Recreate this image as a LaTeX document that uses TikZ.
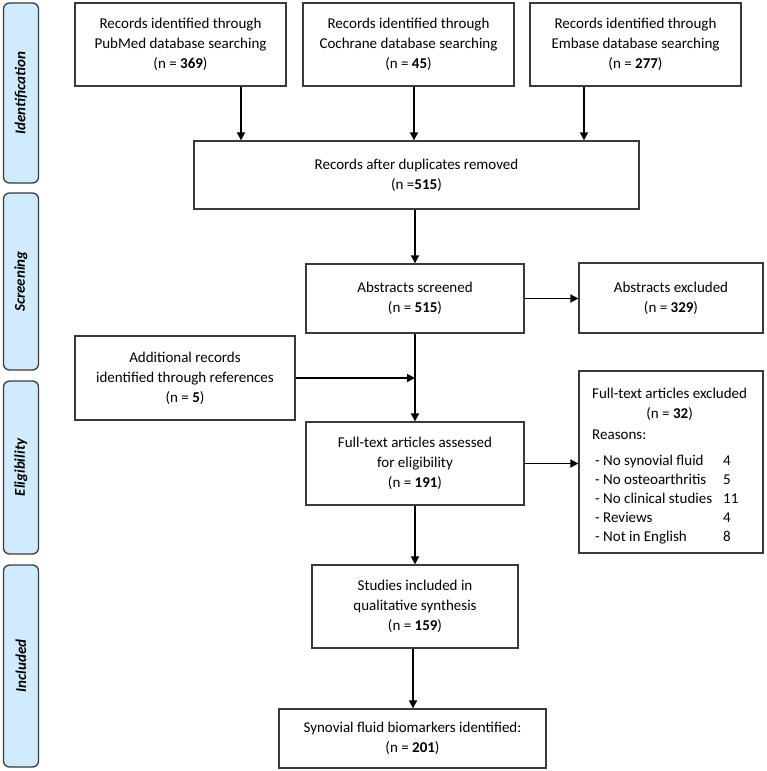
\documentclass[tikz,border=0pt]{standalone}
\usepackage{fontspec}
\setmainfont{Carlito}
\usetikzlibrary{arrows.meta}
\definecolor{barblue}{HTML}{CFEBFD}
\definecolor{edge}{HTML}{3A3A3A}
\tikzset{
  box/.style={draw=edge, line width=1.3pt, align=center, inner sep=0pt,
    font=\fontsize{15}{20}\selectfont},
  bar/.style={draw=edge, line width=1.3pt, fill=barblue, rounded corners=6pt,
    inner sep=0pt},
  barlabel/.style={rotate=90, font=\fontsize{15}{18}\selectfont\bfseries\itshape},
  arr/.style={line width=1.8pt, draw=black, -{Triangle[length=8pt,width=8pt]}}
}
\begin{document}
\begin{tikzpicture}[x=1pt,y=-1pt]
\useasboundingbox (0,0) rectangle (767,771);
% side bars
\node[bar, minimum width=35, minimum height=180] (b1) at (21,93) {};
\node[barlabel] (l1) at (b1) {Identification};
\node[bar, minimum width=35, minimum height=177] (b2) at (21,281.5) {};
\node[barlabel] (l2) at (b2) {Screening};
\node[bar, minimum width=35, minimum height=173] (b3) at (21,467.5) {};
\node[barlabel] (l3) at (b3) {Eligibility};
\node[bar, minimum width=35, minimum height=202] (b4) at (21,666) {};
\node[barlabel] (l4) at (b4) {Included};
% boxes
\node[box, minimum width=211, minimum height=83] (pub) at (180.5,44.5)
  {Records identified through\\PubMed database searching\\(n = \textbf{369})};
\node[box, minimum width=211, minimum height=83] (coch) at (408.5,44.5)
  {Records identified through\\Cochrane database searching\\(n = \textbf{45})};
\node[box, minimum width=211, minimum height=83] (emb) at (635.5,44.5)
  {Records identified through\\Embase database searching\\(n = \textbf{277})};
\node[box, minimum width=445, minimum height=68] (dup) at (416.5,175)
  {Records after duplicates removed\\(n =\textbf{515})};
\node[box, minimum width=218, minimum height=69] (scr) at (415,298.5)
  {Abstracts screened\\(n = \textbf{515})};
\node[box, minimum width=184, minimum height=70] (absx) at (671,298)
  {Abstracts excluded\\(n = \textbf{329})};
\node[box, minimum width=220, minimum height=84] (add) at (185,378)
  {Additional records\\identified through references\\(n = \textbf{5})};
\node[box, minimum width=218, minimum height=83] (fta) at (415,463.5)
  {Full-text articles assessed\\for eligibility\\(n = \textbf{191})};
\node[box, minimum width=184, minimum height=182] (ftx) at (671,462) {};
\node[anchor=north west, inner sep=0pt, font=\fontsize{15}{19}\selectfont] (ftxt) at (592,385)
  {\begin{tabular}{@{}p{131pt}@{}l@{}}
   \multicolumn{2}{@{}c@{}}{Full-text articles excluded}\\[1pt]
   \multicolumn{2}{@{}c@{}}{(n = \textbf{32})}\\[1.5pt]
   Reasons: & \\[7pt]
   \hspace{3pt}- No synovial fluid & 4\\
   \hspace{3pt}- No osteoarthritis & 5\\
   \hspace{3pt}- No clinical studies & 11\\
   \hspace{3pt}- Reviews & 4\\
   \hspace{3pt}- Not in English & 8
   \end{tabular}};
\node[box, minimum width=206, minimum height=83] (inc) at (415,606.5)
  {Studies included in\\qualitative synthesis\\(n = \textbf{159})};
\node[box, minimum width=267, minimum height=59] (syn) at (412.5,738.5)
  {Synovial fluid biomarkers identified:\\(n = \textbf{201})};
% connectors
\coordinate (p1) at ([xshift=60.5pt]pub.south);
\coordinate (p2) at ([xshift=5.5pt]coch.south);
\coordinate (p3) at ([xshift=-51.5pt]emb.south);
\draw[arr] (p1) -- (p1 |- dup.north);
\draw[arr] (p2) -- (p2 |- dup.north);
\draw[arr] (p3) -- (p3 |- dup.north);
\draw[arr] (dup.south -| scr.north) -- (scr.north);
\draw[arr] (scr.east) -- (scr.east -| absx.west);
\draw[arr] (scr.south) -- (fta.north);
\draw[arr] (add.east) -- (add.east -| scr.south);
\draw[arr] (fta.east) -- (fta.east -| ftx.west);
\draw[arr] (fta.south) -- (inc.north);
\coordinate (p4) at ([xshift=-2pt]inc.south);
\draw[arr] (p4) -- (p4 |- syn.north);
\end{tikzpicture}
\end{document}
